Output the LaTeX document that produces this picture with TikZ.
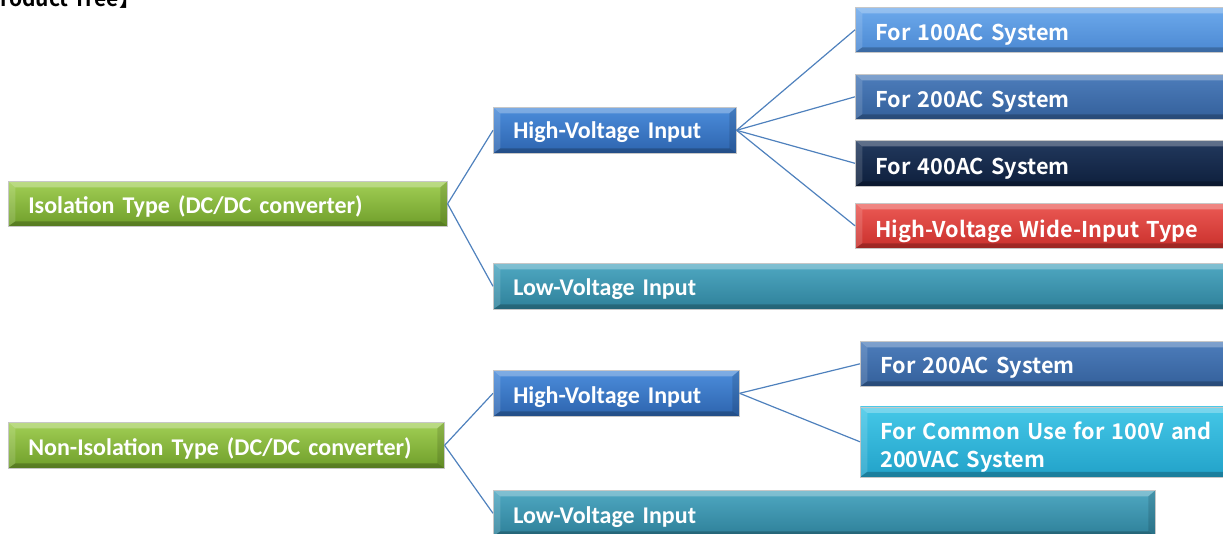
\documentclass[tikz,border=0pt]{standalone}
\usepackage{fontspec}
\setmainfont{Carlito}
\newfontfamily\jpfont[BoldFont={Noto Sans CJK JP Bold}]{Noto Sans CJK JP}

\definecolor{linkblue}{HTML}{4F81BD}
\definecolor{gTop}{HTML}{A2CF55}
\definecolor{gBot}{HTML}{6F9E2A}
\definecolor{hvTop}{HTML}{4C8DDB}
\definecolor{hvBot}{HTML}{2D64AE}
\definecolor{aTop}{HTML}{6DAAEC}
\definecolor{aBot}{HTML}{4B88D2}
\definecolor{bTop}{HTML}{4D7DBB}
\definecolor{bBot}{HTML}{34609B}
\definecolor{cTop}{HTML}{22395E}
\definecolor{cBot}{HTML}{0E1F3C}
\definecolor{rTop}{HTML}{EC5A55}
\definecolor{rBot}{HTML}{C9302C}
\definecolor{lvTop}{HTML}{4FA8C2}
\definecolor{lvBot}{HTML}{2E8099}
\definecolor{cyTop}{HTML}{45C8E8}
\definecolor{cyBot}{HTML}{22A2C9}

\newcommand{\leftfont}{\bfseries\fontsize{24}{28}\selectfont}
\newcommand{\rightfont}{\jpfont\bfseries\fontsize{21.7}{28}\selectfont}

\tikzset{
  link/.style={draw=linkblue, line width=1.2pt},
  % baseline sits (h-d)/2 below the box centre
  base/.style={text height=#1, text depth=4pt},
  tbox/.style={
    anchor=north west, inner xsep=20pt, inner ysep=0pt, align=left,
    text=white, draw=black!22, line width=0.6pt,
    path picture={
      \coordinate (nw) at (path picture bounding box.north west);
      \coordinate (ne) at (path picture bounding box.north east);
      \coordinate (sw) at (path picture bounding box.south west);
      \coordinate (se) at (path picture bounding box.south east);
      % bevel: lit top and left faces, shaded bottom and right faces
      \fill[white,opacity=.28] (nw) -- (ne) -- ([xshift=-7pt,yshift=-6pt]ne)
           -- ([xshift=7pt,yshift=-6pt]nw) -- cycle;
      \fill[white,opacity=.14] (nw) -- ([xshift=7pt,yshift=-6pt]nw)
           -- ([xshift=7pt,yshift=5pt]sw) -- (sw) -- cycle;
      \fill[black,opacity=.22] (sw) -- (se) -- ([xshift=-7pt,yshift=5pt]se)
           -- ([xshift=7pt,yshift=5pt]sw) -- cycle;
      \fill[black,opacity=.12] (ne) -- ([xshift=-7pt,yshift=-6pt]ne)
           -- ([xshift=-7pt,yshift=5pt]se) -- (se) -- cycle;
    }
  },
  green/.style={top color=gTop, bottom color=gBot},
  hvblue/.style={top color=hvTop, bottom color=hvBot},
  ablue/.style={top color=aTop, bottom color=aBot},
  bblue/.style={top color=bTop, bottom color=bBot},
  navy/.style={top color=cTop, bottom color=cBot},
  redbox/.style={top color=rTop, bottom color=rBot},
  teal/.style={top color=lvTop, bottom color=lvBot},
  cyanbox/.style={top color=cyTop, bottom color=cyBot},
}

\begin{document}
\begin{tikzpicture}[x=1pt,y=-1pt]
\useasboundingbox (0,0) rectangle (1223,533);
\clip (0,0) rectangle (1223,533);

% heading, partly outside the frame
\node[anchor=base west, inner sep=0, font=\jpfont\bfseries\fontsize{21}{22}\selectfont] (title) at (-35,6) {【Product Tree】};

% isolation branch
\node[tbox, green, base=23pt, text width=399pt, minimum height=45pt, font=\leftfont] (iso) at (8,181) {Isolation Type (DC/DC converter)};
\node[tbox, hvblue, base=19.4pt, text width=203pt, minimum height=46pt, font=\leftfont] (hv1) at (493,107) {High-Voltage Input};
\node[tbox, teal, base=22pt, text width=700pt, minimum height=46pt, font=\leftfont] (lv1) at (493,263) {Low-Voltage Input};

\node[tbox, ablue, base=26pt, text width=400pt, minimum height=45pt, font=\rightfont] (ac100) at (855,7) {For 100AC System};
\node[tbox, bblue, base=25.6pt, text width=400pt, minimum height=45pt, font=\rightfont] (ac200) at (855,74) {For 200AC System};
\node[tbox, navy, base=26pt, text width=400pt, minimum height=46pt, font=\rightfont] (ac400) at (855,140) {For 400AC System};
\node[tbox, redbox, base=27pt, text width=400pt, minimum height=45pt, font=\rightfont] (wide) at (855,203) {High-Voltage Wide-Input Type};

% non-isolation branch
\node[tbox, green, base=24pt, text width=396pt, minimum height=46pt, font=\leftfont] (noniso) at (8,422) {Non-Isolation Type (DC/DC converter)};
\node[tbox, hvblue, base=24pt, text width=206pt, minimum height=46pt, font=\leftfont] (hv2) at (493,370) {High-Voltage Input};
\node[tbox, teal, base=24pt, text width=622pt, minimum height=46pt, font=\leftfont] (lv2) at (493,490) {Low-Voltage Input};

\node[tbox, bblue, base=23.4pt, text width=400pt, minimum height=45pt, font=\rightfont] (b200) at (860,341) {For 200AC System};
\node[tbox, cyanbox, text height=24pt, text depth=28.8pt, text width=400pt, minimum height=70pt, font=\rightfont] (common) at (860,406.5) {For Common Use for 100V and\\200VAC System};

% connectors
\draw[link] (iso.east) -- (hv1.west);
\draw[link] (iso.east) -- (lv1.west);
\draw[link] (hv1.east) -- (ac100.west);
\draw[link] (hv1.east) -- (ac200.west);
\draw[link] (hv1.east) -- (ac400.west);
\draw[link] (hv1.east) -- (wide.west);
\draw[link] (noniso.east) -- (hv2.west);
\draw[link] (noniso.east) -- (lv2.west);
\draw[link] (hv2.east) -- (b200.west);
\draw[link] (hv2.east) -- (common.west);
\end{tikzpicture}
\end{document}
